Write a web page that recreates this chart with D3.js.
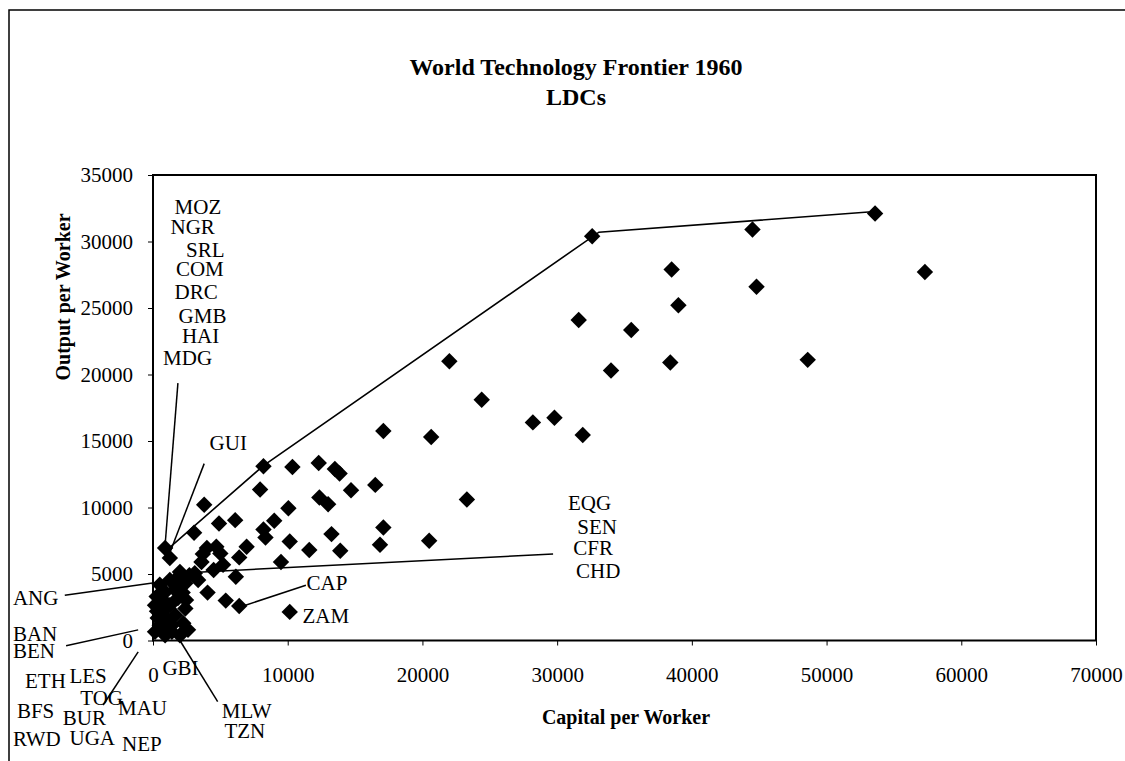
<!DOCTYPE html>
<html>
<head>
<meta charset="utf-8">
<script src="https://cdn.jsdelivr.net/npm/d3@7"></script>
<style>
  body { margin: 0; background: #fff; }
  text { font-family: "Liberation Serif", "Times New Roman", serif; fill: #000; }
</style>
</head>
<body>
<div id="chart"></div>
<script>
// capital per worker / output per worker
let countryX = [53600, 44500, 57300, 44800, 48600, 32600, 38500, 39000, 31600, 35500,
  38400, 34000, 22000, 24400, 17100, 20650, 28200, 29800, 31900,
  8200, 10350, 12300, 13500, 13850, 14700, 16500, 7950, 10050, 12350, 13000,
  17100, 16850, 13250, 13900, 11600, 10150, 9500, 9000, 8200, 8350, 6950, 6400,
  6100, 4900, 3800, 3050, 6150, 4050, 5400, 6400, 10150, 2000, 3350, 2400,
  900, 1250, 4000, 5000, 5200, 4500, 3600, 3100, 3700, 4700, 23300, 20500,
  270, 1750, 2250, 1400, 500, 900, 1250, 150, 650, 1250, 500, 150, 900, 1650,
  1850, 2450, 2600, 350, 1100, 2000, 1400, 750, 1650, 300, 1000,
  1800, 2700, 2400, 2200];
let countryY = [32100, 30900, 27700, 26600, 21100, 30400, 27900, 25200, 24100, 23350,
  20900, 20300, 21000, 18100, 15750, 15300, 16400, 16750, 15450,
  13100, 13050, 13350, 12900, 12550, 11300, 11700, 11350, 9950, 10750, 10250,
  8500, 7200, 8000, 6750, 6800, 7450, 5900, 9000, 8350, 7750, 7050, 6250,
  9050, 8800, 10200, 8100, 4800, 3600, 3000, 2600, 2150, 5150, 4550, 2400,
  6950, 6200, 6950, 6550, 5700, 5300, 5900, 5050, 6500, 7050, 10600, 7500,
  3300, 4050, 1300, 1150, 4200, 3650, 4550, 2650, 2150, 2650, 1150, 650, 400, 1900,
  3200, 3050, 800, 1700, 1550, 400, 650, 3050, 3800, 2200, 900,
  4700, 4900, 4300, 3600];

// frontier kinks
let frontierX = [1250, 8200, 33100, 53600];
let frontierY = [7000, 13150, 30700, 32250];

// country labels (left edge, baseline) in data units
let labelText = ['MOZ', 'NGR', 'SRL', 'COM', 'DRC', 'GMB', 'HAI', 'MDG', 'GUI',
  'ANG', 'BAN', 'BEN', 'ETH', 'LES', 'GBI', 'TOG', 'MAU', 'BFS', 'BUR', 'RWD', 'UGA', 'NEP',
  'MLW', 'TZN', 'CAP', 'ZAM', 'EQG', 'SEN', 'CFR', 'CHD'];
let labelX = [1600, 1300, 2450, 1700, 1600, 1900, 2150, 750, 4200,
  -10400, -10400, -10400, -9500, -6200, 700, -5400, -2600, -10100, -6700, -10400, -6200, -2300,
  5100, 5300, 11400, 11100, 30800, 31500, 31200, 31400];
let labelY = [32100, 30600, 28800, 27400, 25700, 23900, 22400, 20700, 14300,
  2700, 0, -1300, -3600, -3200, -2600, -4850, -5600, -5800, -6350, -7900, -7850, -8300,
  -5800, -7300, 3800, 1300, 9800, 8000, 6400, 4700];

// leader lines: x1, y1, x2, y2
let leaders = [
  [1850, 19350, 900, 7200],
  [3800, 13300, 1250, 6600],
  [-6550, 3400, 500, 4400],
  [-6450, -400, -1100, 800],
  [-3700, -4850, -1100, -850],
  [4800, -4600, 2000, 0],
  [11350, 4150, 6700, 2600],
  [29700, 6500, 2600, 5100]
];

let xTicks = [0, 10000, 20000, 30000, 40000, 50000, 60000, 70000];
let yTicks = [0, 5000, 10000, 15000, 20000, 25000, 30000, 35000];

const W = 1125, H = 761;
const plotL = 153, plotR = 1096, plotT = 175, plotB = 640.5;

let svg = d3.select('#chart').append('svg')
  .attr('width', W).attr('height', H);

// outer frame of the figure
svg.append('path')
  .attr('d', 'M9,' + H + ' V10 H' + W)
  .attr('fill', 'none').attr('stroke', '#000').attr('stroke-width', 1.5);

let x = d3.scaleLinear().domain([0, 70000]).range([plotL, plotR]);
let y = d3.scaleLinear().domain([0, 35000]).range([plotB, plotT]);

svg.append('text')
  .attr('x', 576).attr('y', 75)
  .attr('text-anchor', 'middle')
  .attr('font-size', 24).attr('font-weight', 'bold')
  .text('World Technology Frontier 1960');
svg.append('text')
  .attr('x', 576).attr('y', 105)
  .attr('text-anchor', 'middle')
  .attr('font-size', 24).attr('font-weight', 'bold')
  .text('LDCs');

// plot frame
svg.append('rect')
  .attr('x', plotL).attr('y', plotT)
  .attr('width', plotR - plotL).attr('height', plotB - plotT)
  .attr('fill', 'none').attr('stroke', '#000').attr('stroke-width', 2);

let xAxis = svg.append('g')
  .attr('transform', 'translate(0,' + plotB + ')')
  .call(d3.axisBottom(x).tickValues(xTicks).tickSize(5).tickPadding(22).tickFormat(d3.format('d')));
let yAxis = svg.append('g')
  .attr('transform', 'translate(' + plotL + ',0)')
  .call(d3.axisLeft(y).tickValues(yTicks).tickSize(5).tickPadding(15).tickFormat(d3.format('d')));

[xAxis, yAxis].forEach(function (g) {
  g.select('.domain').remove();
  g.selectAll('line').attr('stroke', '#000').attr('stroke-width', 1);
  g.selectAll('text')
    .attr('font-family', '"Liberation Serif", "Times New Roman", serif')
    .attr('font-size', 21).attr('fill', '#000');
});

svg.append('text')
  .attr('x', 626).attr('y', 724)
  .attr('text-anchor', 'middle')
  .attr('font-size', 20).attr('font-weight', 'bold')
  .text('Capital per Worker');
svg.append('text')
  .attr('transform', 'translate(70,297) rotate(-90)')
  .attr('text-anchor', 'middle')
  .attr('font-size', 20).attr('font-weight', 'bold')
  .text('Output per Worker');

// frontier
let frontierLine = d3.line()
  .x(function (d) { return x(d[0]); })
  .y(function (d) { return y(d[1]); });
svg.append('path')
  .attr('d', frontierLine(d3.zip(frontierX, frontierY)))
  .attr('fill', 'none').attr('stroke', '#000').attr('stroke-width', 1.6);

// points
let diamond = d3.symbol().type(d3.symbolSquare).size(135);
svg.append('g').selectAll('path')
  .data(d3.zip(countryX, countryY))
  .join('path')
  .attr('d', diamond)
  .attr('transform', function (d) { return 'translate(' + x(d[0]) + ',' + y(d[1]) + ') rotate(45)'; })
  .attr('fill', '#000');

// leaders
svg.append('g').selectAll('line')
  .data(leaders)
  .join('line')
  .attr('x1', function (d) { return x(d[0]); })
  .attr('y1', function (d) { return y(d[1]); })
  .attr('x2', function (d) { return x(d[2]); })
  .attr('y2', function (d) { return y(d[3]); })
  .attr('stroke', '#000').attr('stroke-width', 1.5);

svg.append('g').selectAll('text')
  .data(d3.zip(labelText, labelX, labelY))
  .join('text')
  .attr('x', function (d) { return x(d[1]); })
  .attr('y', function (d) { return y(d[2]); })
  .attr('font-size', 21)
  .text(function (d) { return d[0]; });
</script>
</body>
</html>
